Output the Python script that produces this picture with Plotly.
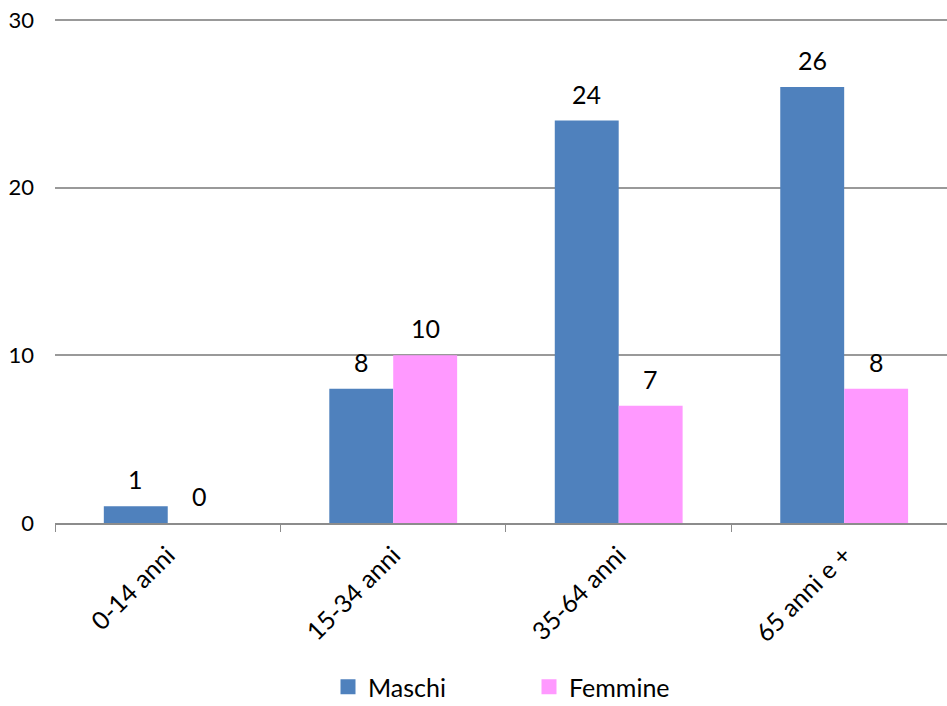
import plotly.graph_objects as go

categories = ["0-14 anni", "15-34 anni", "35-64 anni", "65 anni e +"]
maschi = [1, 8, 24, 26]
femmine = [0, 10, 7, 8]
y_ticks = [0, 10, 20, 30]
colors = {"Maschi": "#4F81BD", "Femmine": "#FF99FF"}

FONT = "Lato, Open Sans, sans-serif"

fig = go.Figure()
for name, vals in (("Maschi", maschi), ("Femmine", femmine)):
    fig.add_trace(go.Bar(name=name, x=categories, y=vals, marker_color=colors[name],
                         marker_line_width=0, showlegend=False))
# legend entries with larger square swatches
for name in ("Maschi", "Femmine"):
    fig.add_trace(go.Scatter(name=name, x=[None], y=[None], mode="markers",
                             marker=dict(symbol="square", size=15, color=colors[name])))

# data labels above the bars
for vals, dx in ((maschi, -32), (femmine, 32)):
    for cat, v in zip(categories, vals):
        fig.add_annotation(x=cat, y=v, text=str(v), showarrow=False,
                           xshift=dx, yshift=27, yanchor="middle",
                           font=dict(size=25, color="black", family=FONT))

fig.update_layout(
    width=947, height=706,
    margin=dict(l=55, r=0, t=18, b=183, autoexpand=False),
    plot_bgcolor="white", paper_bgcolor="white",
    font=dict(family=FONT, size=23, color="black"),
    barmode="group", bargap=0.433, bargroupgap=0,
    showlegend=True,
    legend=dict(orientation="h", xref="paper", yref="paper",
                x=(328 - 55) / 892, y=-(183 - 19) / 505, xanchor="left", yanchor="middle",
                font=dict(size=25), itemwidth=30, entrywidth=156),
)
fig.update_xaxes(range=[-0.5, 3.456], tickangle=-45, tickson="boundaries",
                 ticks="outside", ticklen=7, tickcolor="#8c8c8c",
                 showline=True, linecolor="#8c8c8c", linewidth=1.5,
                 showgrid=False, tickfont=dict(size=25), ticklabelstandoff=6,
                 automargin=False)
fig.update_yaxes(range=[0, 30.12], tickvals=y_ticks, showgrid=True, gridcolor="#999999",
                 gridwidth=1.5, zeroline=False, showline=False, ticks="",
                 ticklabelstandoff=20, tickfont=dict(size=22), automargin=False,
                 ticklabeloverflow="allow")

fig.write_html("out.html", config={"displayModeBar": False},
               post_script="document.body.style.margin='0';")
